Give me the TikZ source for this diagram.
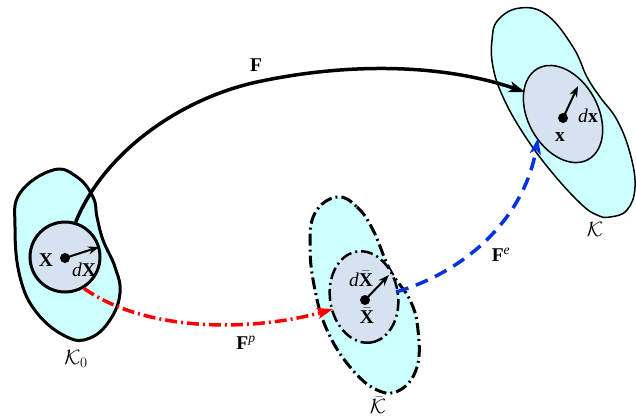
\documentclass[tikz,border=0pt]{standalone}
\usepackage{amsmath}
\usepackage{fontspec}
\setmainfont{Liberation Serif}
\usetikzlibrary{arrows.meta,shapes.geometric}
\definecolor{bodycyan}{RGB}{204,255,255}
\definecolor{grainblue}{RGB}{214,226,240}
\definecolor{mapred}{RGB}{255,0,0}
\definecolor{mapblue}{RGB}{0,51,221}
\tikzset{
  outerbody/.style={draw, fill=bodycyan, line join=round},
  grain/.style={draw, fill=grainblue, inner sep=0pt},
  dot/.style={circle, fill=black, inner sep=0pt, minimum size=10pt},
  vec/.style={-{Stealth[length=11pt,width=8pt]}, line width=2pt},
  lbl/.style={inner sep=1pt, font=\fontsize{19.5}{22}\selectfont},
  dashdot/.style={dash pattern=on 12pt off 4pt on 2pt off 4pt},
  maparr/.style={-{Stealth[length=16pt,width=11pt,inset=4pt]}, line width=3.5pt},
}
\newcommand{\bX}{\ensuremath{\bar{\text{\textbf{X}}}}}

\begin{document}
\begin{tikzpicture}[x=1pt, y=-1pt]
  \useasboundingbox (0,0) rectangle (636,416);

  % bodies
  \draw[outerbody, line width=3pt] plot[smooth cycle, tension=0.7] coordinates {
    (53,170) (77,177) (93,197) (97,217) (103,240) (115,267) (120,293)
    (110,320) (90,338) (67,337) (37,313) (20,277) (15,227) (20,193)};
  \draw[outerbody, line width=1.5pt] plot[smooth cycle, tension=0.7] coordinates {
    (520,8) (547,15) (573,47) (587,77) (600,97) (617,120) (630,153) (635,187)
    (627,210) (610,217) (597,215) (580,203) (550,170) (523,133) (503,97)
    (493,67) (492,40) (498,20)};
  \draw[outerbody, line width=3pt, dashdot] plot[smooth cycle, tension=0.7] coordinates {
    (337,197) (357,207) (373,230) (390,270) (410,300) (418,330) (417,367)
    (400,390) (377,390) (350,367) (327,330) (315,290) (310,247) (315,213)};

  \node[grain, circle, line width=3pt, minimum size=70pt] (in0) at (65,257) {};
  \node[grain, ellipse, line width=1.5pt, rotate=-61,
        minimum width=104pt, minimum height=70pt] (inK) at (563,114) {};
  \node[grain, ellipse, line width=2.5pt, dashdot, rotate=-81,
        minimum width=92pt, minimum height=68pt] (inB) at (364,297) {};

  % map ends
  \coordinate (Fmid) at (257,82);
  \coordinate (Fend) at (525,92);
  \coordinate (Fpend) at (333,309);
  \coordinate (Fes) at (396,292);
  \coordinate (Feend) at (538,138);

  \draw[maparr] (in0.73) .. controls (105,150) and (183,98) .. (Fmid)
    .. controls (345,63) and (440,63) .. (Fend);
  \draw[maparr, mapred, dashdot] (in0.-59) .. controls (150,335) and (260,330) .. (Fpend);
  \draw[maparr, mapblue, dash pattern=on 13pt off 8pt] (Fes) .. controls (470,270) and (525,215) .. (Feend);

  % material points
  \node[dot] (p0) at (65,258) {};
  \node[dot] (pB) at (365,300) {};
  \node[dot] (pK) at (563,118) {};
  \coordinate (q0) at (99,247);
  \coordinate (qB) at (389,275);
  \coordinate (qK) at (578,86);
  \draw[vec] (p0.center) -- (q0);
  \draw[vec] (pB.center) -- (qB);
  \draw[vec] (pK.center) -- (qK);

  % labels
  \node[lbl] (lX) at (46,260) {\textbf{X}};
  \node[lbl] (ldX) at (84,270) {\textit{d}\textbf{X}};
  \node[lbl] (lXb) at (367,316) {\bX};
  \node[lbl] (ldXb) at (361,279) {\textit{d}\bX};
  \node[lbl] (lx) at (560,137) {\textbf{x}};
  \node[lbl] (ldx) at (588,116) {\textit{d}\textbf{x}};
  \node[lbl] (lF) at (256,65) {\textbf{F}};
  \node[lbl] (lFp) at (246,343) {\textbf{F}\textsuperscript{\textit{p}}};
  \node[lbl] (lFe) at (501,255) {\textbf{F}\textsuperscript{\textit{e}}};
  \node[lbl] (lK0) at (76,359) {$\mathcal{K}_0$};
  \node[lbl] (lKb) at (378,405) {$\bar{\mathcal{K}}$};
  \node[lbl] (lK) at (595,229) {$\mathcal{K}$};
\end{tikzpicture}
\end{document}
